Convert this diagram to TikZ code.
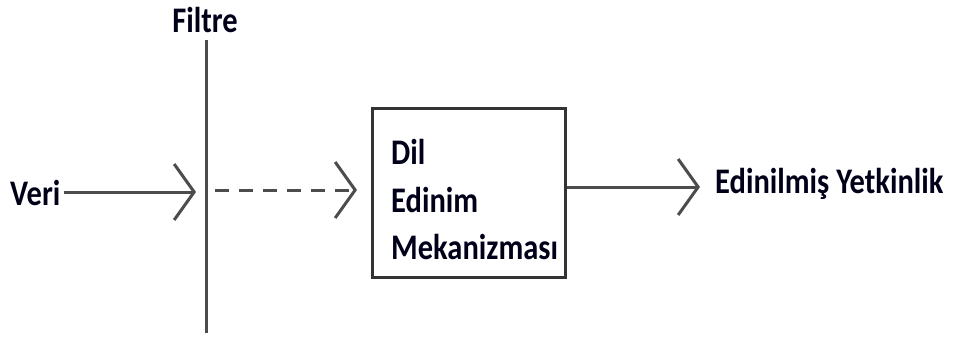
\documentclass[tikz,border=0pt]{standalone}
\usepackage{fontspec}
\setmainfont{Carlito}
\usetikzlibrary{arrows.meta}
\newcommand{\vsc}[1]{\scalebox{1}[1.18]{#1}}
\begin{document}
\begin{tikzpicture}[x=1pt,y=-1pt,
  lbl/.style={font=\fontsize{30.5}{36}\bfseries\selectfont, text=black!90!blue, inner sep=0pt},
  ln/.style={draw=black!70, line width=3pt},
  tip/.style={-{Straight Barb[length=20pt,width=56pt,line width=3pt]}},
  mechbox/.style={draw=black!80, line width=3pt, minimum width=193pt, minimum height=169pt, inner sep=0pt}
]
\useasboundingbox (0,0) rectangle (955,343);
\node[lbl] (filtre) at (205,20) {\vsc{Filtre}};
\coordinate (ftop) at (206,40);
\coordinate (fbot) at (206,333);
\draw[ln] (ftop) -- (fbot);
\node[lbl, anchor=west] (veri) at (10,193) {\vsc{Veri}};
\coordinate (in1) at (196,192);
\draw[ln, tip] (veri.east) ++(3,-1) coordinate (v0) (v0) -- (in1);
\node[mechbox] (mech) at (468.5,192.5) {};
\node[lbl, anchor=west, align=left, font=\fontsize{30.5}{47.5}\bfseries\selectfont] (mtext) at (391,200) {\vsc{Dil}\\\vsc{Edinim}\\\vsc{Mekanizması}};
\coordinate (d0) at (215,190);
\coordinate (d1) at (357,190);
\draw[ln, tip, dash pattern=on 14pt off 10pt] (d0) -- (d1);
\coordinate (o1) at (700,187);
\draw[ln, tip] (mech.east |- o1) -- (o1);
\node[lbl, anchor=west] (out) at (715,184) {\vsc{Edinilmiş Yetkinlik}};
\end{tikzpicture}
\end{document}
